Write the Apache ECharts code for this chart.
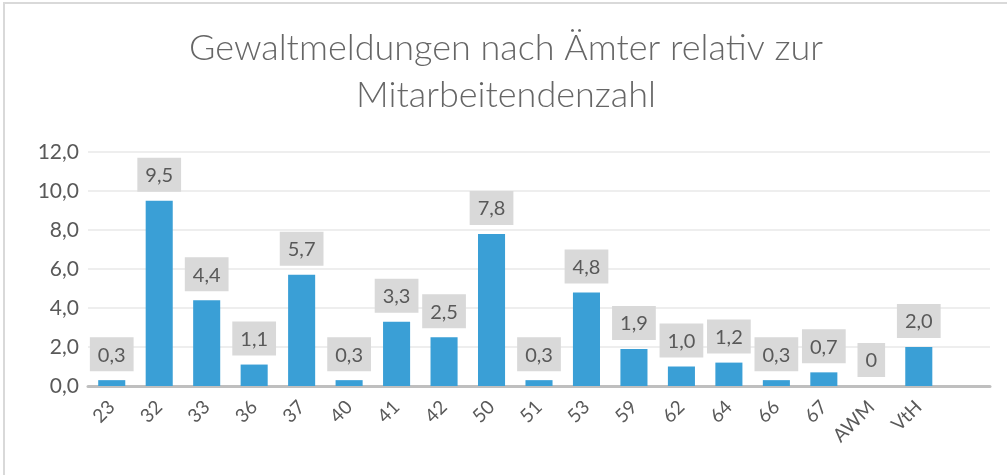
<!DOCTYPE html>
<html>
<head>
<meta charset="utf-8">
<script src="https://cdn.jsdelivr.net/npm/echarts@6/dist/echarts.min.js"></script>
<style>
  html, body { margin: 0; padding: 0; background: #fff; }
  #chart { position: absolute; left: 3px; top: 2px; width: 1004px; height: 473px;
           border-left: 2px solid #d9d9d9; border-top: 2px solid #d9d9d9; box-sizing: border-box; }
</style>
</head>
<body>
<div id="chart"></div>
<script>
  // Ämter (letzte Kategorie bleibt leer wie im Original)
  const categories = ['23', '32', '33', '36', '37', '40', '41', '42', '50', '51', '53', '59', '62', '64', '66', '67', 'AWM', 'VtH', '']
  const values = [0.3, 9.5, 4.4, 1.1, 5.7, 0.3, 3.3, 2.5, 7.8, 0.3, 4.8, 1.9, 1.0, 1.2, 0.3, 0.7, 0, 2.0, null]
  const yTicks = { min: 0, max: 12, interval: 2 }

  const fmt = v => v.toFixed(1).replace('.', ',')
  const textColor = '#595959'
  const font = 'Lato, "Open Sans", sans-serif'

  const chart = echarts.init(document.getElementById('chart'))
  chart.setOption({
    animation: false,
    title: {
      text: 'Gewaltmeldungen nach Ämter relativ zur\nMitarbeitendenzahl',
      left: 'center',
      top: 16,
      textStyle: {
        fontFamily: font,
        fontSize: 36,
        fontWeight: 300,
        color: '#666666',
        lineHeight: 47
      }
    },
    grid: { left: 83, right: 17, top: 148, bottom: 89 },
    xAxis: {
      type: 'category',
      data: categories,
      axisTick: { show: false },
      axisLine: { lineStyle: { color: '#bfbfbf', width: 3 } },
      axisLabel: {
        rotate: 45,
        interval: 0,
        margin: 18,
        color: textColor,
        fontSize: 19,
        fontFamily: font
      }
    },
    yAxis: {
      type: 'value',
      min: yTicks.min,
      max: yTicks.max,
      interval: yTicks.interval,
      axisLine: { show: false },
      axisTick: { show: false },
      splitLine: { lineStyle: { color: '#eeeeee', width: 2 } },
      axisLabel: {
        formatter: fmt,
        margin: 9,
        color: textColor,
        fontSize: 21,
        fontFamily: font
      }
    },
    series: [{
      type: 'bar',
      data: values,
      barCategoryGap: '43%',
      itemStyle: { color: '#3a9fd6' },
      label: {
        show: true,
        position: 'top',
        distance: 9,
        formatter: p => (p.value === 0 ? '0' : fmt(p.value)),
        backgroundColor: '#d9d9d9',
        padding: [8, 8, 6, 8],
        color: textColor,
        fontSize: 20,
        fontFamily: font
      }
    }]
  })
</script>
</body>
</html>
